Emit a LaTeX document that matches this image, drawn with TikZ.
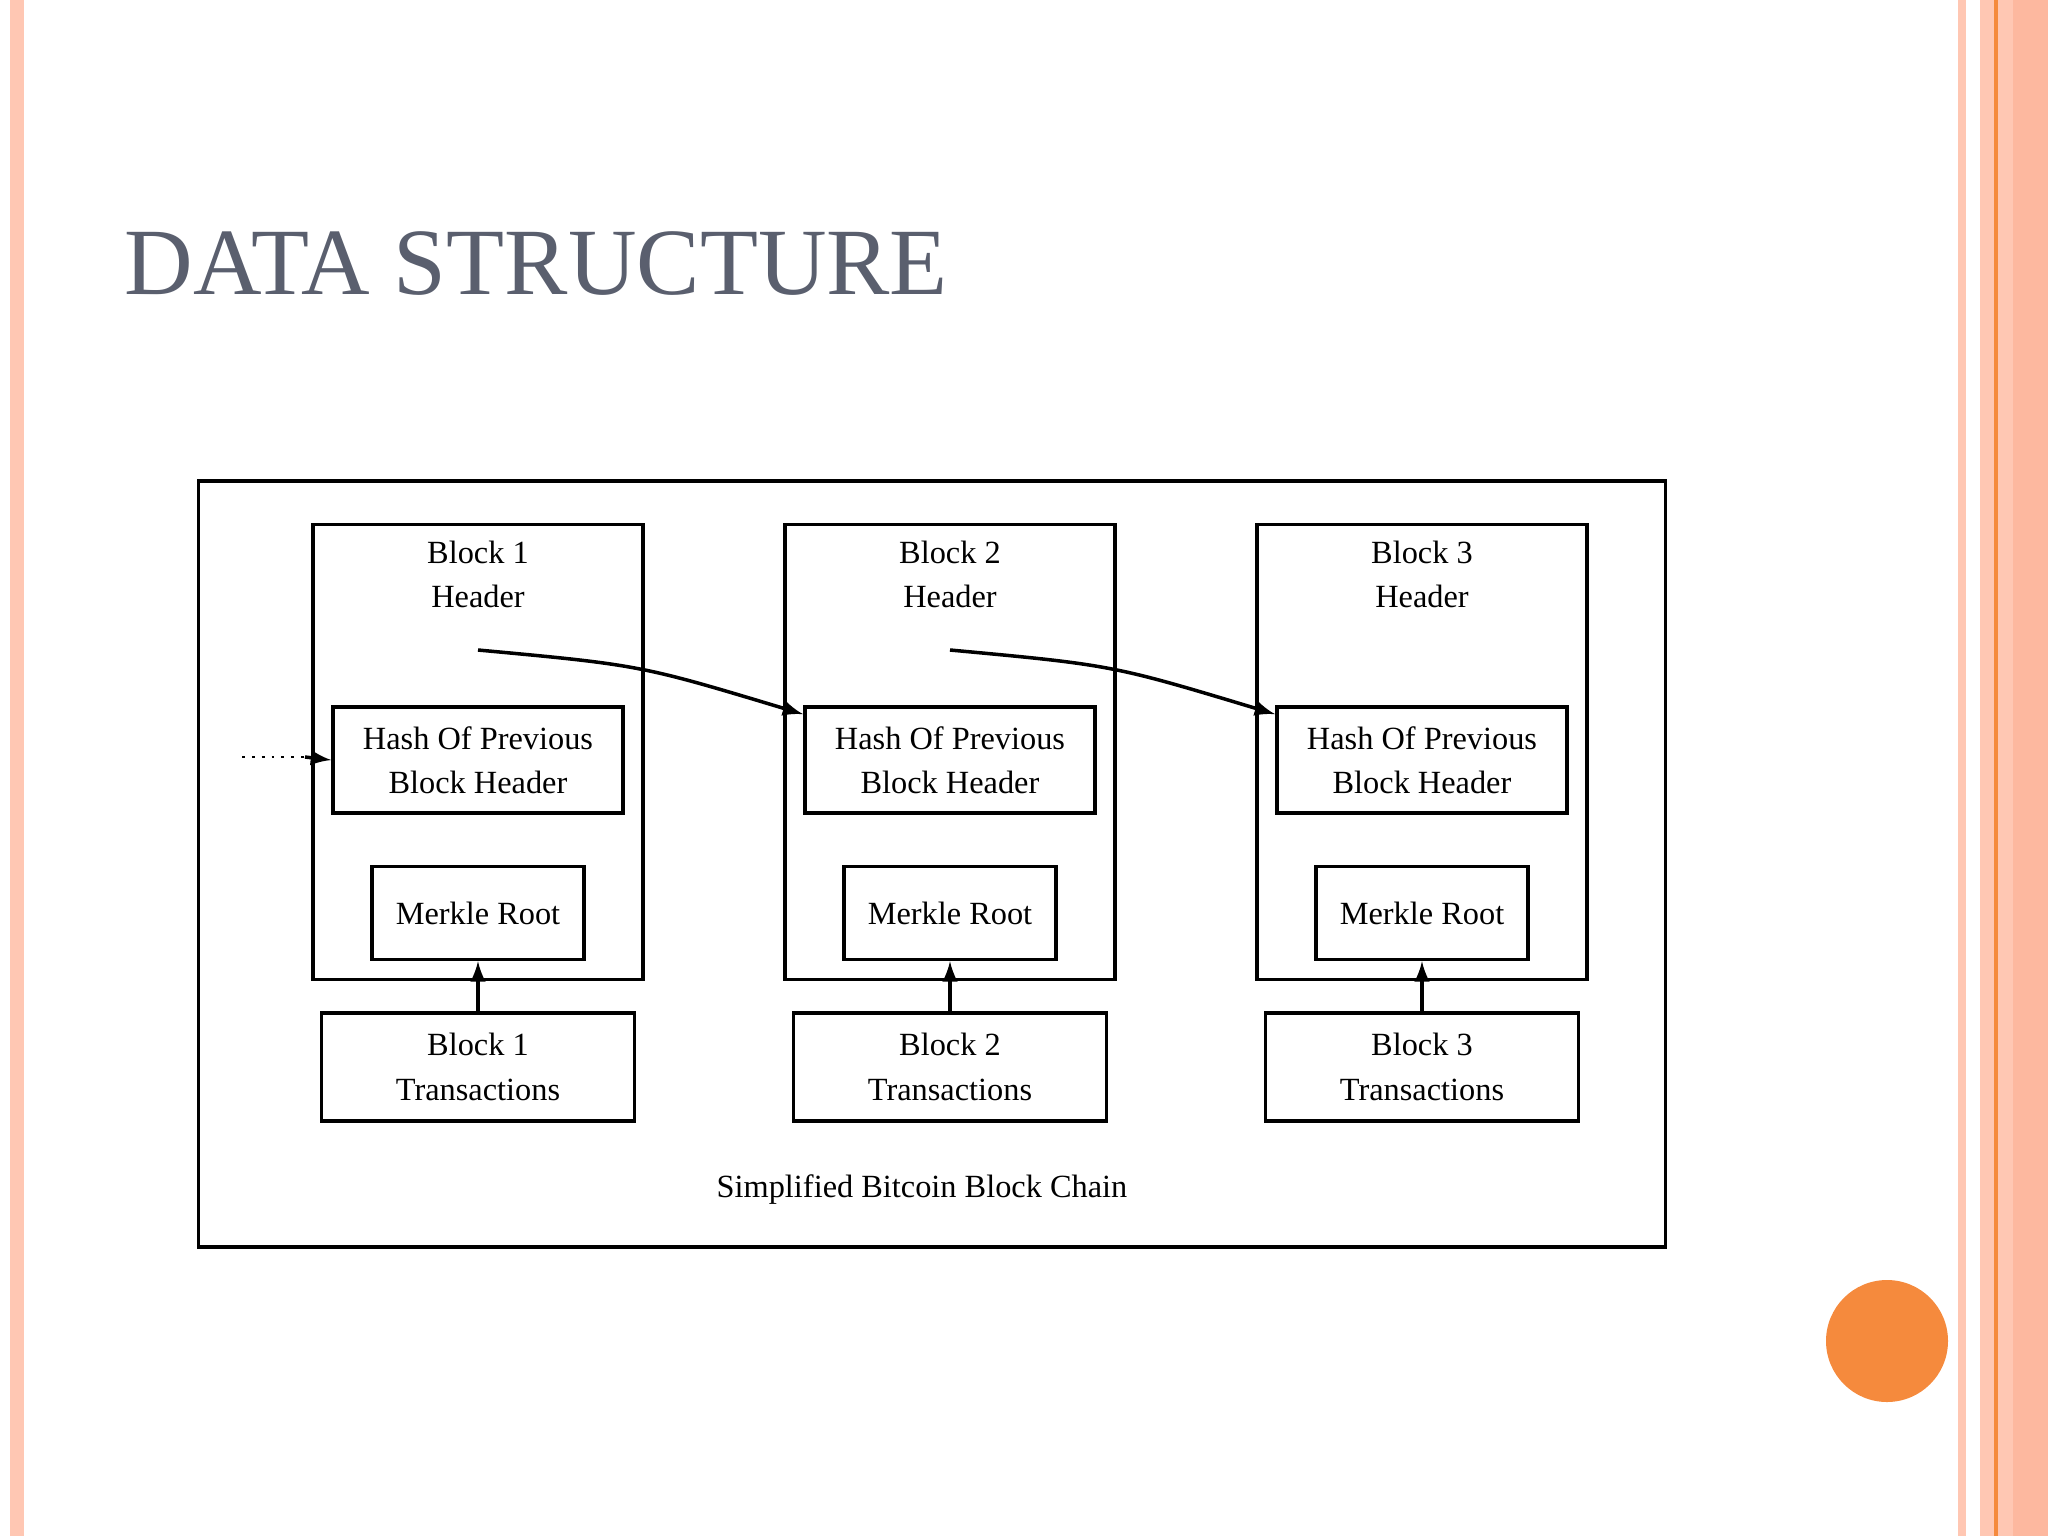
\documentclass[tikz,border=0pt]{standalone}
\usepackage{fontspec}
\setmainfont{Liberation Serif}
\usetikzlibrary{arrows,calc}
\definecolor{peach}{HTML}{FFC7B3}
\definecolor{peachdark}{HTML}{FDB89F}
\definecolor{titlegray}{HTML}{5A5F6E}
\definecolor{dotorange}{HTML}{F58A3D}
\tikzstyle{frame} = [draw,rectangle,line width=1pt,inner sep=0pt]
\tikzstyle{inner} = [draw,rectangle,line width=1pt,align=center,inner sep=0pt,font=\boxfont]
\tikzstyle{connector} = [-latex,line width=1pt]
\newcommand{\boxfont}{\fontsize{9.2}{12.6}\selectfont}
\begin{document}
\begin{tikzpicture}[x=0.01cm,y=-0.01cm,>=stealth']
    \useasboundingbox (0,0) rectangle (2048,1536);
    % slide decoration
    \fill[peach] (10,0) rectangle (24,1536);
    \fill[peach] (1958,0) rectangle (1966,1536);
    \fill[peach] (1980,0) rectangle (2013,1536);
    \fill[peachdark] (2013,0) rectangle (2048,1536);
    \draw[dotorange,line width=1pt] (1996,0) -- (1996,1536);
    \fill[dotorange] (1887,1341) circle (61);
    \node[anchor=base west,text=titlegray,font=\fontsize{27}{31}\selectfont,inner sep=0pt] (title) at (124,294) {DATA STRUCTURE};
    % outer frame
    \node[frame,minimum width=14.66cm,minimum height=7.66cm] (outer) at (932,864) {};
    \foreach \i/\x in {1/478,2/950,3/1422} {
      \node[frame,minimum width=3.3cm,minimum height=4.55cm] (blk\i) at (\x,752) {};
      \node[align=center,font=\boxfont,anchor=north,inner sep=0pt] (hd\i) at (\x,540) {Block \i\\Header};
      \coordinate (src\i) at (\x,650);
      \node[inner,minimum width=2.9cm,minimum height=1.06cm] (hash\i) at (\x,760) {Hash Of Previous\\Block Header};
      \node[inner,minimum width=2.12cm,minimum height=0.93cm] (mr\i) at (\x,913) {Merkle Root};
      \node[inner,minimum width=3.13cm,minimum height=1.08cm] (tx\i) at (\x,1067) {Block \i\\Transactions};
      \draw[connector] (tx\i) -- (mr\i);
    }
    \draw[connector] (src1) .. controls (640,665) .. ($(hash2.north west)+(0,9)$);
    \draw[connector] (src2) .. controls (1112,665) .. ($(hash3.north west)+(0,9)$);
    \coordinate (prev) at (242,757);
    \draw[thick,dotted] (prev) -- (312,757);
    \draw[connector] (305,757) -- (hash1.west);
    \node[font=\boxfont] (caption) at (922,1190) {Simplified Bitcoin Block Chain};
\end{tikzpicture}
\end{document}
